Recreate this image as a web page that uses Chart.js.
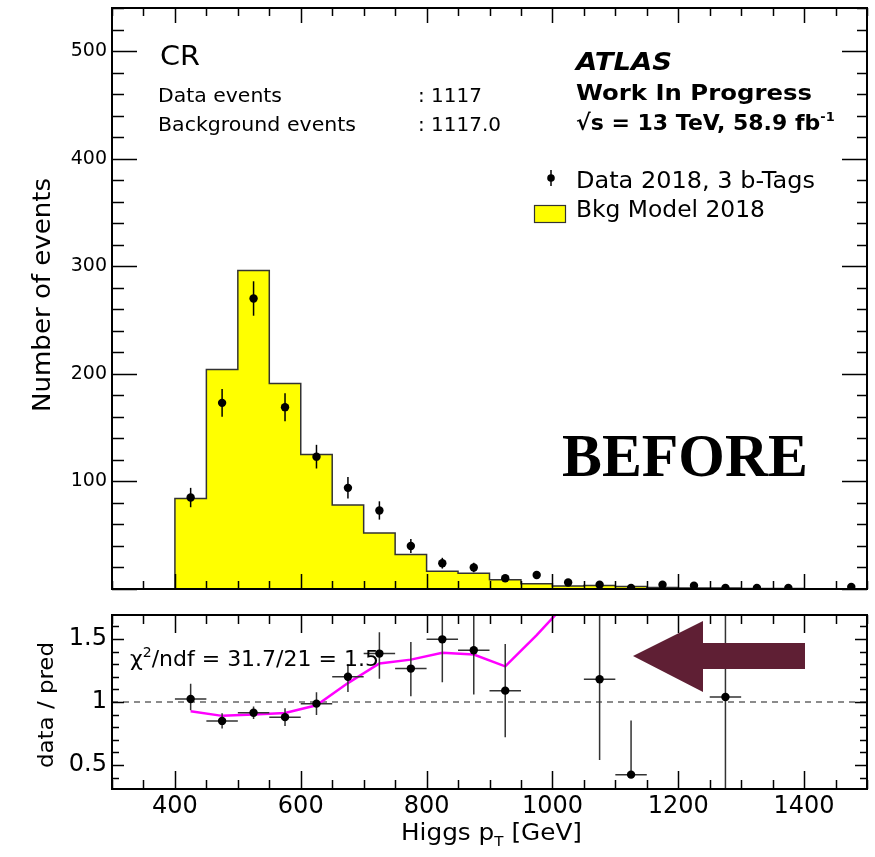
<!DOCTYPE html>
<html>
<head>
<meta charset="utf-8">
<script src="https://cdn.jsdelivr.net/npm/chart.js@4"></script>
<style>
  body { margin: 0; background: #fff; }
  #wrap { position: relative; width: 875px; height: 857px; }
  canvas { position: absolute; left: 0; }
  #top { top: 0; }
  #bot { top: 600px; }
  #ann { position: absolute; left: 0; top: 0; pointer-events: none; }
</style>
</head>
<body>
<div id="wrap">
  <canvas id="top" width="875" height="600"></canvas>
  <canvas id="bot" width="875" height="257"></canvas>
  <svg id="ann" width="875" height="857" font-family="DejaVu Sans, sans-serif" fill="#000">
    <text x="160" y="65" font-size="26" textLength="40" lengthAdjust="spacingAndGlyphs">CR</text>
    <text x="158" y="102" font-size="19" textLength="124" lengthAdjust="spacingAndGlyphs">Data events</text>
    <text x="158" y="131" font-size="19" textLength="198" lengthAdjust="spacingAndGlyphs">Background events</text>
    <text x="418" y="102" font-size="19" textLength="64" lengthAdjust="spacingAndGlyphs">: 1117</text>
    <text x="418" y="131" font-size="19" textLength="83" lengthAdjust="spacingAndGlyphs">: 1117.0</text>

    <text x="576" y="69.5" font-size="24" font-weight="bold" font-style="italic" textLength="96" lengthAdjust="spacingAndGlyphs">ATLAS</text>
    <text x="576" y="100" font-size="22" font-weight="bold" textLength="236" lengthAdjust="spacingAndGlyphs">Work In Progress</text>
    <text x="576" y="130" font-size="22" font-weight="bold">√s = 13 TeV, 58.9 fb<tspan dy="-9" font-size="13">-1</tspan></text>

    <line x1="551" y1="170" x2="551" y2="186" stroke="#000" stroke-width="1.5"/>
    <circle cx="551" cy="178" r="3.8" fill="#000"/>
    <text x="576" y="188" font-size="23" textLength="239" lengthAdjust="spacingAndGlyphs">Data 2018, 3 b-Tags</text>
    <rect x="534.5" y="205.5" width="31" height="17" fill="#ffff00" stroke="#333" stroke-width="1.2"/>
    <text x="576" y="216.5" font-size="23" textLength="189" lengthAdjust="spacingAndGlyphs">Bkg Model 2018</text>

    <text x="562" y="476" font-family="Liberation Serif, serif" font-weight="bold" font-size="62" textLength="246" lengthAdjust="spacingAndGlyphs">BEFORE</text>
    <polygon points="633,656 703,621 703,643 805,643 805,669 703,669 703,692" fill="#5f1f34"/>

    <text x="130" y="666" font-size="22">χ<tspan dy="-9" font-size="14">2</tspan><tspan dy="9">/ndf = 31.7/21 = 1.5</tspan></text>

    <text x="401" y="840" font-size="23" textLength="181" lengthAdjust="spacingAndGlyphs">Higgs p<tspan dy="6" font-size="14">T</tspan><tspan dy="-6"> [GeV]</tspan></text>
    <text transform="translate(50,295) rotate(-90)" text-anchor="middle" font-size="24" textLength="234" lengthAdjust="spacingAndGlyphs">Number of events</text>
    <text transform="translate(53,705) rotate(-90)" text-anchor="middle" font-size="22" textLength="126" lengthAdjust="spacingAndGlyphs">data / pred</text>
  </svg>
</div>

<script>
// bin edges of Higgs pT [GeV]
const binEdges = [400, 450, 500, 550, 600, 650, 700, 750, 800, 850, 900, 950,
                  1000, 1050, 1100, 1150, 1200, 1250, 1300, 1350, 1400, 1450, 1500]
// background model per bin
const bkg = [84, 204, 296, 191, 125, 78, 52, 32, 16.4, 14.6, 8.7, 4.8,
             2.8, 3.3, 2.4, 1.5, 0.9, 1.0, 0.5, 0.4, 0.3, 0.2]
// data per bin (bin centres)
const binCenters = [425, 475, 525, 575, 625, 675, 725, 775, 825, 875, 925, 975,
                    1025, 1075, 1125, 1175, 1225, 1275, 1325, 1375, 1425, 1475]
const dataCounts = [85, 173, 270, 169, 123, 94, 73, 40, 24, 20, 10, 13,
                    6, 4, 1, 4, 3, 1, 1, 1, null, 2]
const dataErr = [9, 13, 16, 13, 11, 10, 8.5, 6.5, 5, 4.5, 3, 3.6,
                 2.5, 2, 1, 2, 1.7, 1, 1, 1, null, 1.4]

// ratio panel
const ratioX = [425, 475, 525, 575, 625, 675, 725, 775, 825, 875, 925, 1075, 1125, 1275]
const ratioY = [1.024, 0.85, 0.915, 0.88, 0.987, 1.2, 1.384, 1.265, 1.497, 1.41, 1.09, 1.18, 0.424, 1.04]
const ratioUp = [0.12, 0.06, 0.05, 0.07, 0.09, 0.1, 0.17, 0.21, 0.34, 0.35, 0.37, 0.64, 0.43, 1.0]
const ratioDn = [0.09, 0.06, 0.05, 0.07, 0.09, 0.12, 0.2, 0.22, 0.34, 0.35, 0.37, 0.64, 0, 1.0]
const fitX = [425, 475, 525, 575, 625, 675, 725, 775, 825, 875, 925, 975, 1025]
const fitY = [0.926, 0.89, 0.9, 0.913, 0.974, 1.15, 1.305, 1.336, 1.39, 1.376, 1.283, 1.53, 1.8]

// tick labels
const xTickLabels = [400, 600, 800, 1000, 1200, 1400]
const yTickTop = [100, 200, 300, 400, 500]
const yTickRatio = [0.5, 1, 1.5]

// histogram outline: corners of every bin
const histPts = [{ x: binEdges[0], y: 0 }]
bkg.forEach((v, i) => {
  histPts.push({ x: binEdges[i], y: v })
  histPts.push({ x: binEdges[i + 1], y: v })
})
histPts.push({ x: binEdges[binEdges.length - 1], y: 0 })

const FONT = 'DejaVu Sans'

// fixed axis sizes so both pads line up
function fixSize(w, h) {
  return s => {
    if (w != null) s.width = w
    if (h != null) s.height = h
    s.paddingTop = 0; s.paddingBottom = 0
    s.paddingLeft = 0; s.paddingRight = 0
  }
}

// ROOT style: frame, inward ticks, error bars
const rootStyle = {
  id: 'rootStyle',
  beforeDatasetDraw(chart, args) {
    const ds = chart.data.datasets[args.index]
    if (!ds.errUp) return
    const { ctx, chartArea: a, scales: { x, y } } = chart
    ctx.save()
    ctx.beginPath()
    ctx.rect(a.left, a.top, a.right - a.left, a.bottom - a.top)
    ctx.clip()
    ctx.strokeStyle = ds.errColor
    ctx.lineWidth = 1.5
    ds.data.forEach((p, i) => {
      if (p.y == null) return
      const px = x.getPixelForValue(p.x)
      const py = y.getPixelForValue(p.y)
      ctx.beginPath()
      ctx.moveTo(px, y.getPixelForValue(p.y + ds.errUp[i]))
      ctx.lineTo(px, y.getPixelForValue(p.y - ds.errDn[i]))
      if (ds.errX) {
        ctx.moveTo(x.getPixelForValue(p.x - ds.errX), py)
        ctx.lineTo(x.getPixelForValue(p.x + ds.errX), py)
      }
      ctx.stroke()
    })
    ctx.restore()
  },
  afterDraw(chart, args, o) {
    const { ctx, chartArea: a, scales: { x, y } } = chart
    ctx.save()
    ctx.strokeStyle = '#000'
    ctx.lineWidth = 1.5
    const near = (v, s) => Math.abs(v / s - Math.round(v / s)) < 1e-6
    ctx.beginPath()
    for (let k = Math.ceil(x.min / o.xMinor); k * o.xMinor <= x.max; k++) {
      const v = k * o.xMinor
      const len = near(v, o.xMajor) ? o.xMajLen : o.xMinLen
      const px = Math.round(x.getPixelForValue(v)) + 0.5
      ctx.moveTo(px, a.bottom); ctx.lineTo(px, a.bottom - len)
      ctx.moveTo(px, a.top); ctx.lineTo(px, a.top + len)
    }
    for (let k = Math.ceil(y.min / o.yMinor - 1e-6); k * o.yMinor <= y.max + 1e-9; k++) {
      const v = k * o.yMinor
      const major = near(v, o.yMajor)
      const py = Math.round(y.getPixelForValue(v)) + 0.5
      ctx.moveTo(a.left, py); ctx.lineTo(a.left + (major ? o.yMajLen : o.yMinLen), py)
      ctx.moveTo(a.right, py); ctx.lineTo(a.right - (major ? o.yMajLenR : o.yMinLenR), py)
    }
    ctx.stroke()
    ctx.lineWidth = 2
    ctx.strokeRect(a.left, a.top, a.right - a.left, a.bottom - a.top)
    ctx.restore()
  }
}

new Chart(document.getElementById('top'), {
  type: 'line',
  data: {
    datasets: [
      {
        label: 'Data 2018, 3 b-Tags',
        data: binCenters.map((c, i) => ({ x: c, y: dataCounts[i] })),
        showLine: false,
        pointRadius: 4.2,
        pointBackgroundColor: '#000',
        pointBorderWidth: 0,
        errUp: dataErr,
        errDn: dataErr,
        errColor: '#000'
      },
      {
        label: 'Bkg Model 2018',
        data: histPts,
        borderColor: '#333',
        borderWidth: 1.5,
        backgroundColor: '#ffff00',
        fill: 'origin',
        pointRadius: 0,
        tension: 0
      }
    ]
  },
  options: {
    responsive: false,
    animation: false,
    layout: { padding: { left: 0, right: 8, top: 8, bottom: 0 } },
    plugins: {
      legend: { display: false },
      tooltip: { enabled: false },
      rootStyle: { xMajor: 200, xMinor: 50, xMajLen: 15, xMinLen: 8,
                   yMajor: 100, yMinor: 20, yMajLen: 25, yMinLen: 12, yMajLenR: 25, yMinLenR: 10 }
    },
    scales: {
      x: {
        type: 'linear', min: 300, max: 1500,
        grid: { display: false }, border: { display: false },
        ticks: { display: false },
        afterFit: fixSize(null, 11)
      },
      y: {
        min: 0, max: 540,
        grid: { display: false, drawTicks: false }, border: { display: false },
        afterBuildTicks: s => { s.ticks = yTickTop.map(v => ({ value: v })) },
        ticks: { padding: 5, color: '#000', font: { family: FONT, size: 19 }, callback: v => String(v) },
        afterFit: fixSize(112, null)
      }
    }
  },
  plugins: [rootStyle]
})

new Chart(document.getElementById('bot'), {
  type: 'line',
  data: {
    datasets: [
      {
        label: 'ratio',
        data: ratioX.map((c, i) => ({ x: c, y: ratioY[i] })),
        showLine: false,
        pointRadius: 4.2,
        pointBackgroundColor: '#000',
        pointBorderWidth: 0,
        errUp: ratioUp,
        errDn: ratioDn,
        errX: 25,
        errColor: '#333'
      },
      {
        label: 'fit',
        data: fitX.map((c, i) => ({ x: c, y: fitY[i] })),
        borderColor: '#ff00ff',
        borderWidth: 2.5,
        pointRadius: 0,
        tension: 0
      },
      {
        label: 'unity',
        data: [{ x: 300, y: 1 }, { x: 1500, y: 1 }],
        borderColor: '#666',
        borderWidth: 1.5,
        borderDash: [6, 5],
        pointRadius: 0
      }
    ]
  },
  options: {
    responsive: false,
    animation: false,
    layout: { padding: { left: 0, right: 8, top: 15, bottom: 0 } },
    plugins: {
      legend: { display: false },
      tooltip: { enabled: false },
      rootStyle: { xMajor: 200, xMinor: 50, xMajLen: 18, xMinLen: 9,
                   yMajor: 0.5, yMinor: 0.1, yMajLen: 12, yMinLen: 7, yMajLenR: 12, yMinLenR: 7 }
    },
    scales: {
      x: {
        type: 'linear', min: 300, max: 1500,
        grid: { display: false, drawTicks: false }, border: { display: false },
        afterBuildTicks: s => { s.ticks = xTickLabels.map(v => ({ value: v })) },
        ticks: { padding: 3, color: '#000', maxRotation: 0, font: { family: FONT, size: 24 }, callback: v => String(v) },
        afterFit: fixSize(null, 68)
      },
      y: {
        min: 0.31, max: 1.69,
        grid: { display: false, drawTicks: false }, border: { display: false },
        afterBuildTicks: s => { s.ticks = yTickRatio.map(v => ({ value: v })) },
        ticks: { padding: 5, color: '#000', font: { family: FONT, size: 24 }, callback: v => String(v) },
        afterFit: fixSize(112, null)
      }
    }
  },
  plugins: [rootStyle]
})
</script>
</body>
</html>
